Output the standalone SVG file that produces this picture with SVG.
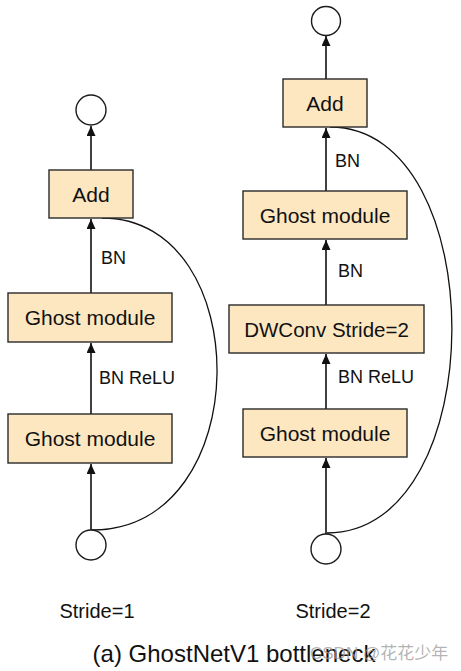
<svg xmlns="http://www.w3.org/2000/svg" width="461" height="671" viewBox="0 0 461 671">
<defs>
<style>
.box{fill:#FDE7C1;stroke:#2a2a2a;stroke-width:1.4}
.circ{fill:#fff;stroke:#1a1a1a;stroke-width:1.4}
.t{font-family:"Liberation Sans",Arial,sans-serif;fill:#111;text-anchor:middle}
.lbl{font-family:"Liberation Sans",Arial,sans-serif;fill:#111;font-size:18px}
.edge{stroke:#111;stroke-width:1.6;fill:none}
.skip{stroke:#111;stroke-width:1.3;fill:none}
</style>
<marker id="ah" markerUnits="userSpaceOnUse" markerWidth="10" markerHeight="10" refX="10" refY="4.5" orient="auto">
<path d="M0,0 L10,4.5 L0,9 z" fill="#111"/>
</marker>
</defs>
<rect width="461" height="671" fill="#fff"/>

<g id="connectors">
<line class="edge" x1="91" y1="530" x2="91" y2="464" marker-end="url(#ah)"/>
<line class="edge" x1="91" y1="414" x2="91" y2="343" marker-end="url(#ah)"/>
<line class="edge" x1="91" y1="293" x2="91" y2="219" marker-end="url(#ah)"/>
<line class="edge" x1="91" y1="170" x2="91" y2="126" marker-end="url(#ah)"/>
<path class="skip" d="M92,530 C257,530 257,218 102,218"/>
<line class="edge" x1="326" y1="534" x2="326" y2="458" marker-end="url(#ah)"/>
<line class="edge" x1="326" y1="409" x2="326" y2="354" marker-end="url(#ah)"/>
<line class="edge" x1="326" y1="305" x2="326" y2="240" marker-end="url(#ah)"/>
<line class="edge" x1="326" y1="191" x2="326" y2="128" marker-end="url(#ah)"/>
<line class="edge" x1="326" y1="79" x2="326" y2="36" marker-end="url(#ah)"/>
<path class="skip" d="M327,533 C493,533 493,127 330,127"/>
<text class="lbl" x="101" y="264">BN</text>
<text class="lbl" x="99" y="384">BN ReLU</text>
<text class="lbl" x="335" y="167">BN</text>
<text class="lbl" x="338" y="277">BN</text>
<text class="lbl" x="338" y="383">BN ReLU</text>
</g>

<g id="l_out"><circle class="circ" cx="91" cy="110" r="15"/></g>
<g id="l_add"><rect class="box" x="49" y="170" width="84" height="48"/><text class="t" x="91" y="202" font-size="21">Add</text></g>
<g id="l_gm1"><rect class="box" x="8" y="293" width="164" height="49"/><text class="t" x="90" y="325" font-size="21">Ghost module</text></g>
<g id="l_gm2"><rect class="box" x="8" y="414" width="164" height="49"/><text class="t" x="90" y="446" font-size="21">Ghost module</text></g>
<g id="l_in"><circle class="circ" cx="91" cy="545" r="15"/></g>

<g id="r_out"><circle class="circ" cx="326" cy="21" r="14.5"/></g>
<g id="r_add"><rect class="box" x="283" y="79" width="84" height="48"/><text class="t" x="325" y="111" font-size="21">Add</text></g>
<g id="r_gm1"><rect class="box" x="243" y="191" width="164" height="48"/><text class="t" x="325" y="223" font-size="21">Ghost module</text></g>
<g id="r_dw"><rect class="box" x="229" y="305" width="195" height="48"/><text class="t" x="326.5" y="337" font-size="20.5">DWConv Stride=2</text></g>
<g id="r_gm2"><rect class="box" x="243" y="409" width="164" height="48"/><text class="t" x="325" y="441" font-size="21">Ghost module</text></g>
<g id="r_in"><circle class="circ" cx="326" cy="549" r="15"/></g>

<text class="t" x="97" y="618" font-size="20">Stride=1</text>
<text class="t" x="333" y="618" font-size="20">Stride=2</text>
<text class="t" x="234" y="662" font-size="24">(a) GhostNetV1 bottleneck</text>
<text x="310" y="659" font-family="'Liberation Sans','Noto Sans CJK SC',sans-serif" font-size="17" fill="#9a9a9a" fill-opacity="0.75">CSDN @花花少年</text>
</svg>
